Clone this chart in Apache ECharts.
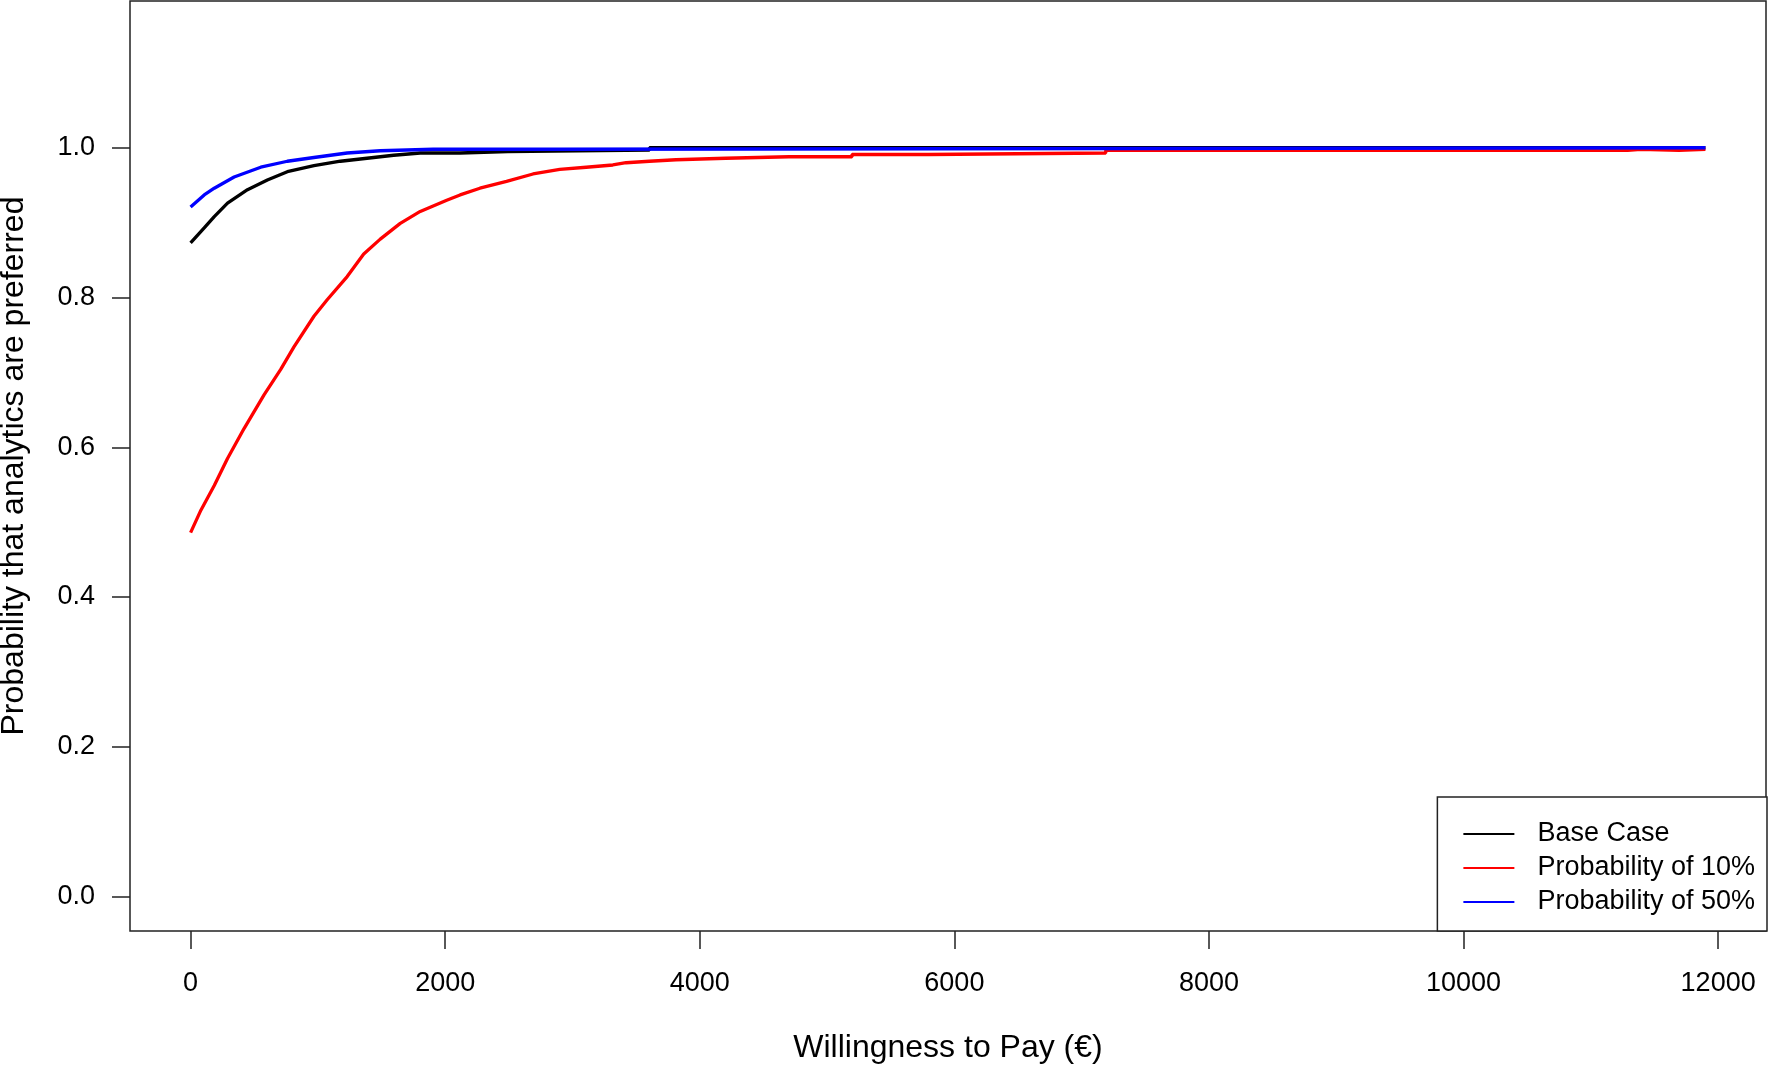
<!DOCTYPE html>
<html>
<head>
<meta charset="utf-8">
<title>Willingness to pay</title>
<script src="https://cdn.jsdelivr.net/npm/echarts@6/dist/echarts.min.js"></script>
<style>
  html, body { margin: 0; padding: 0; background: #fff; }
  #chart { width: 1770px; height: 1065px; }
</style>
</head>
<body>
<div id="chart"></div>
<script>
// Values (WTP in EUR, probability).
var baseWtp = [0, 107, 186, 290, 447, 603, 760, 969, 1177, 1386, 1595, 1804, 2117, 2117, 2493, 2493, 3605, 3605, 11900];
var baseProb = [0.873, 0.893, 0.908, 0.926, 0.944, 0.957, 0.968, 0.976, 0.982, 0.986, 0.990, 0.993, 0.993, 0.995, 0.995, 0.997, 0.997, 1.0, 1.0];

var p10Wtp = [0, 81, 186, 290, 420, 577, 708, 812, 969, 1073, 1230, 1360, 1490, 1647, 1804, 2012, 2117, 2273, 2482, 2690, 2900, 3108, 3317, 3421, 3604, 3813, 4204, 4700, 5196, 5196, 5796, 5796, 7189, 7189, 11289, 11289, 11393, 11393, 11692, 11692, 11900];
var p10Prob = [0.486, 0.516, 0.549, 0.585, 0.625, 0.670, 0.704, 0.734, 0.775, 0.797, 0.828, 0.858, 0.878, 0.899, 0.915, 0.930, 0.937, 0.946, 0.955, 0.965, 0.971, 0.974, 0.977, 0.980, 0.982, 0.984, 0.986, 0.988, 0.988, 0.991, 0.991, 0.993, 0.993, 0.9965, 0.9965, 0.998, 0.998, 0.9965, 0.9965, 0.998, 0.998];

var p50Wtp = [0, 107, 186, 342, 551, 760, 969, 1230, 1490, 1906, 2900, 2900, 11900];
var p50Prob = [0.921, 0.937, 0.946, 0.961, 0.974, 0.982, 0.987, 0.993, 0.996, 0.998, 0.998, 1.0, 1.0];

var seriesNames = ['Base Case', 'Probability of 10%', 'Probability of 50%'];
var seriesColors = ['#000000', '#ff0000', '#0000ff'];

var xTicks = [0, 2000, 4000, 6000, 8000, 10000, 12000];
var yTicks = [0, 0.2, 0.4, 0.6, 0.8, 1.0];

var fontFamily = '"Liberation Sans", Arial, Helvetica, sans-serif';

function zip(xs, ys) {
  return xs.map(function (x, i) {
    return [x, ys[i]];
  });
}

var dom = document.getElementById('chart');
var myChart = echarts.init(dom, null, { renderer: 'canvas' });

var lines = [zip(baseWtp, baseProb), zip(p10Wtp, p10Prob), zip(p50Wtp, p50Prob)];

var option = {
  animation: false,
  backgroundColor: '#fff',
  textStyle: { fontFamily: fontFamily, color: '#000' },
  grid: {
    left: 130,
    right: 4,
    top: 1,
    bottom: 134,
    outerBoundsMode: 'none',
    containLabel: false,
    show: true,
    borderColor: '#222',
    borderWidth: 1.5,
    backgroundColor: 'transparent',
  },
  legend: {
    orient: 'vertical',
    right: 3,
    bottom: 134,
    data: seriesNames.map(function (n) {
      return { name: n, icon: 'rect' };
    }),
    itemWidth: 51,
    itemHeight: 2,
    itemGap: 4,
    padding: [22, 12, 14, 26],
    backgroundColor: '#fff',
    borderColor: '#222',
    borderWidth: 1.5,
    borderRadius: 0,
    selectedMode: false,
    textStyle: {
      fontFamily: fontFamily,
      fontSize: 27,
      color: '#000',
      lineHeight: 30,
      padding: [0, 0, 0, 18],
    },
  },
  xAxis: {
    type: 'value',
    min: -476,
    max: 12376,
    name: 'Willingness to Pay (€)',
    nameLocation: 'middle',
    nameGap: 101,
    nameTextStyle: { fontFamily: fontFamily, fontSize: 32, color: '#000' },
    axisLine: { show: false, onZero: false },
    axisTick: {
      show: true,
      length: 18,
      customValues: xTicks,
      lineStyle: { color: '#222', width: 1.5 },
    },
    axisLabel: {
      customValues: xTicks,
      margin: 39,
      fontSize: 27,
      color: '#000',
      fontFamily: fontFamily,
      formatter: function (v) {
        return String(v);
      },
    },
    splitLine: { show: false },
  },
  yAxis: {
    type: 'value',
    min: -0.046,
    max: 1.196,
    name: 'Probability that analytics are preferred',
    nameLocation: 'middle',
    nameGap: 100,
    nameTextStyle: { fontFamily: fontFamily, fontSize: 32, color: '#000' },
    axisLine: { show: false, onZero: false },
    axisTick: {
      show: true,
      length: 18,
      customValues: yTicks,
      lineStyle: { color: '#222', width: 1.5 },
    },
    axisLabel: {
      customValues: yTicks,
      margin: 35,
      fontSize: 27,
      color: '#000',
      fontFamily: fontFamily,
      formatter: function (v) {
        return v.toFixed(1);
      },
    },
    splitLine: { show: false },
  },
  series: [],
};

for (let i = 0; i < lines.length; i++) {
  option.series.push({
    type: 'line',
    name: seriesNames[i],
    data: lines[i],
    showSymbol: false,
    symbol: 'none',
    color: seriesColors[i],
    lineStyle: { width: 3.3, color: seriesColors[i] },
    z: 2 + i,
  });
}

myChart.setOption(option);
</script>
</body>
</html>
